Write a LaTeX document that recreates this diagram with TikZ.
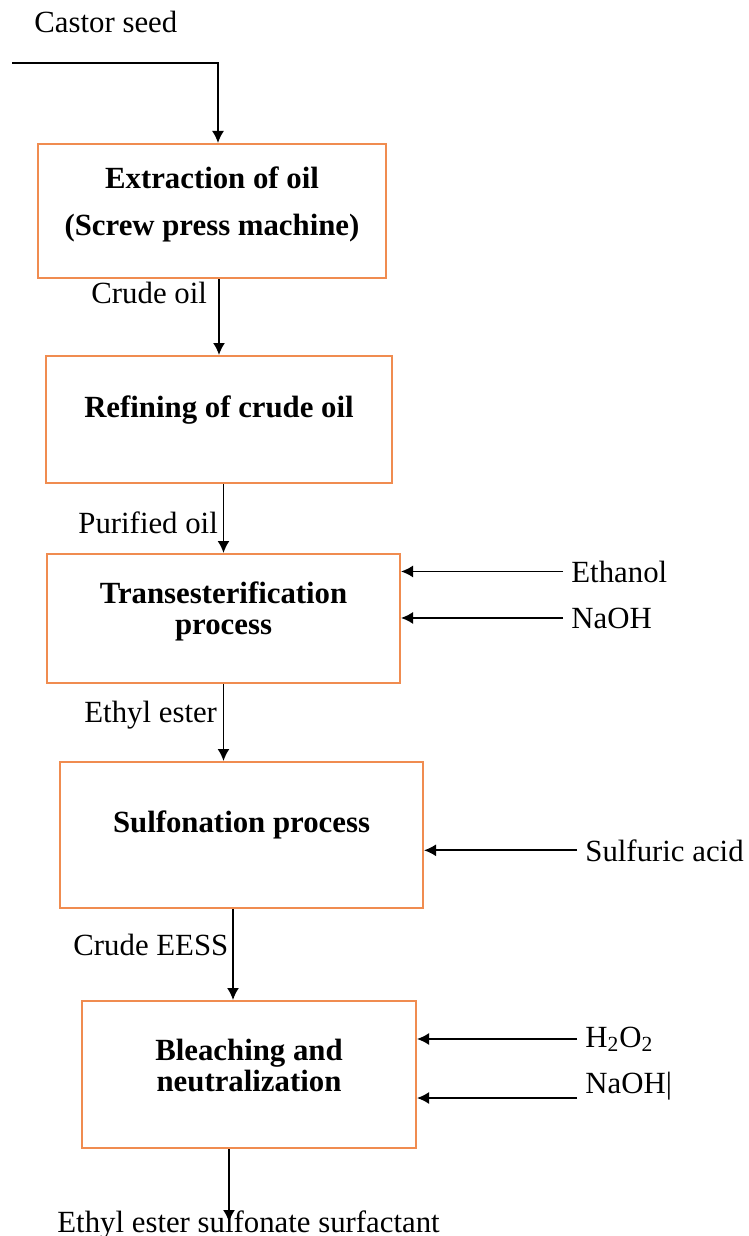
\documentclass[tikz,border=0pt]{standalone}
\usepackage{fontspec}
\setmainfont{Liberation Serif}
\usetikzlibrary{arrows.meta}
\definecolor{boxorange}{RGB}{240,140,80}
\newcommand\flowsize{\fontsize{15.4}{15.5}\selectfont}
\tikzset{
  procbox/.style={draw=boxorange, line width=1pt, inner sep=0pt},
  boxtext/.style={font=\flowsize\bfseries, align=center, inner sep=0pt},
  flowtext/.style={inner sep=0pt, anchor=base west},
  flow/.style={-{Latex[length=6pt,width=6pt]}, line width=0.85pt},
  feed/.style={flow, shorten <=4pt}
}
\begin{document}
\begin{tikzpicture}[x=0.5pt, y=-0.5pt, font=\flowsize]
\useasboundingbox (0,0) rectangle (749,1236);

% process boxes
\node[procbox, minimum width=174pt, minimum height=67pt,
  label={[boxtext, yshift=3.25pt]center:{Extraction of oil\\[8pt](Screw press machine)}}] (extract) at (212,211) {};
\node[procbox, minimum width=173pt, minimum height=63.5pt,
  label={[boxtext, yshift=4.75pt]center:{Refining of crude oil}}] (refine) at (219,419.5) {};
\node[procbox, minimum width=176.5pt, minimum height=64.5pt,
  label={[boxtext, yshift=3.75pt]center:{Transesterification\\process}}] (trans) at (223.5,618.5) {};
\node[procbox, minimum width=181.5pt, minimum height=73pt,
  label={[boxtext, yshift=5pt]center:{Sulfonation process}}] (sulfon) at (241.5,835) {};
\node[procbox, minimum width=167pt, minimum height=73.5pt,
  label={[boxtext, yshift=4.75pt]center:{Bleaching and\\neutralization}}] (bleach) at (249,1074.5) {};

% stream labels
\node[flowtext] (seed) at (34,33) {Castor seed};
\node[flowtext] (crudeoil) at (91,303) {Crude oil};
\node[flowtext] (purified) at (78,533) {Purified oil};
\node[flowtext] (ethylester) at (84,722) {Ethyl ester};
\node[flowtext] (crudeeess) at (73,955) {Crude EESS};
\node[flowtext] (product) at (57,1232) {Ethyl ester sulfonate surfactant};

% feeds
\node[flowtext] (ethanol) at (571,582) {Ethanol};
\node[flowtext] (naoha) at (571,628) {NaOH};
\node[flowtext] (sulfuric) at (585,861) {Sulfuric acid};
\node[flowtext] (htwo) at (585,1047) {H\textsubscript{2}O\textsubscript{2}};
\node[flowtext] (naohb) at (585,1093) {NaOH|};

\coordinate (seedin) at (12,63);
\coordinate (eessout) at ([xshift=-4.25pt]sulfon.south);
\coordinate (outtip) at (229,1222);

% main line
\draw[flow] (seedin) -| ([xshift=3pt]extract.north);
\draw[flow] (refine.north |- extract.south) -- (refine.north);
\draw[flow] (trans.north |- refine.south) -- (trans.north);
\draw[flow] (trans.south) -- (trans.south |- sulfon.north);
\draw[flow] (eessout) -- (eessout |- bleach.north);
\draw[flow] (outtip |- bleach.south) -- (outtip);

% side inputs
\draw[feed] (ethanol.west) -- (ethanol.west -| trans.east);
\draw[feed] (naoha.west) -- (naoha.west -| trans.east);
\draw[feed] (sulfuric.west) -- (sulfuric.west -| sulfon.east);
\draw[feed] (htwo.west) -- (htwo.west -| bleach.east);
\draw[feed] ([yshift=-2.5pt]naohb.base west) -- ([yshift=-2.5pt]naohb.base west -| bleach.east);
\end{tikzpicture}
\end{document}
